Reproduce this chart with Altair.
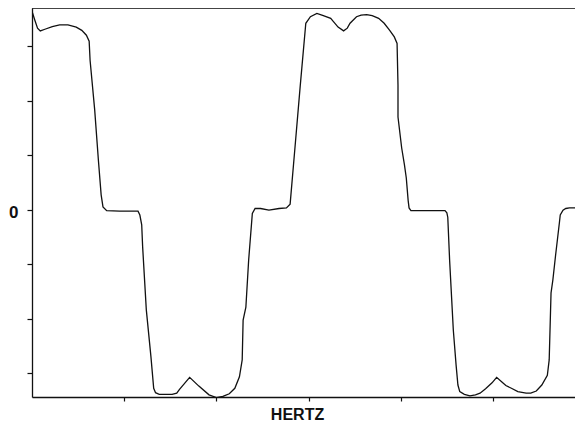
import altair as alt
import pandas as pd

# Waveform trace (x in tick units of the HERTZ axis, y in tick units of amplitude)
hertz = [
    0.00, 0.03, 0.06, 0.09, 0.14, 0.22, 0.30, 0.39, 0.48, 0.54, 0.59, 0.62, 0.63, 0.68, 0.72, 0.75,
    0.77, 0.81, 0.95, 1.15, 1.17, 1.19, 1.20, 1.24, 1.29, 1.32, 1.34, 1.38, 1.52, 1.57, 1.60, 1.71,
    1.81, 1.92, 2.00, 2.07, 2.14, 2.20, 2.25, 2.28, 2.29, 2.32, 2.35, 2.39, 2.42, 2.48, 2.57, 2.68,
    2.76, 2.80, 2.85, 2.91, 2.97, 3.02, 3.09, 3.16, 3.24, 3.27, 3.32, 3.38, 3.42, 3.45, 3.52, 3.57,
    3.63, 3.69, 3.76, 3.82, 3.88, 3.93, 3.96, 3.97, 3.97, 4.01, 4.04, 4.06, 4.08, 4.09, 4.11, 4.30,
    4.48, 4.50, 4.51, 4.53, 4.57, 4.60, 4.62, 4.64, 4.69, 4.75, 4.81, 4.86, 4.92, 4.99, 5.04, 5.10,
    5.14, 5.20, 5.27, 5.36, 5.41, 5.47, 5.53, 5.59, 5.61, 5.63, 5.65, 5.68, 5.72, 5.73, 5.76, 5.79,
    5.83, 5.87, 5.93,
]
amplitude = [
    3.64, 3.48, 3.33, 3.28, 3.31, 3.36, 3.39, 3.39, 3.35, 3.29, 3.20, 3.09, 2.74, 1.83, 0.91, 0.27,
    0.05, -0.02, -0.03, -0.03, -0.10, -0.28, -0.68, -1.84, -2.70, -3.28, -3.36, -3.39, -3.39, -3.37, -3.30, -3.08,
    -3.24, -3.40, -3.45, -3.43, -3.38, -3.28, -3.07, -2.76, -2.03, -1.79, -0.93, -0.07, 0.02, 0.02, -0.01, 0.02,
    0.03, 0.10, 1.09, 2.28, 3.42, 3.54, 3.60, 3.56, 3.51, 3.45, 3.35, 3.28, 3.33, 3.42, 3.54, 3.57,
    3.58, 3.56, 3.51, 3.42, 3.29, 3.17, 3.05, 2.28, 1.70, 1.13, 0.82, 0.58, 0.17, 0.03, -0.02, -0.02,
    -0.02, -0.06, -0.14, -0.93, -2.21, -2.85, -3.22, -3.34, -3.39, -3.42, -3.40, -3.37, -3.29, -3.18, -3.08, -3.17,
    -3.23, -3.28, -3.34, -3.37, -3.37, -3.33, -3.22, -3.04, -2.76, -1.53, -1.29, -0.83, -0.25, -0.10, -0.01, 0.02,
    0.03, 0.03, 0.03,
]

x_ticks = [1, 2, 3, 4, 5]
y_ticks = [-3, -2, -1, 0, 1, 2, 3]
x_domain = [0, 5.89]
y_domain = [-3.44, 3.70]
x_title = "HERTZ"

df = pd.DataFrame({"hertz": hertz, "amp": amplitude, "order": list(range(len(hertz)))})

W, H = 543, 389

line = alt.Chart(df).mark_line(color="#111111", strokeWidth=1.3, interpolate="linear", clip=True).encode(
    x=alt.X("hertz:Q", scale=alt.Scale(domain=x_domain, nice=False, zero=False),
            axis=alt.Axis(values=x_ticks, labels=False, grid=False, tickSize=4, tickColor="#111",
                          domainColor="#111", domainWidth=1.3, tickWidth=1.2,
                          title=x_title, titleFont="Liberation Sans", titleFontSize=16,
                          titleFontWeight="bold", titleColor="#111", titleX=265, titleY=22,
                          titleAlign="center", titleBaseline="alphabetic")),
    y=alt.Y("amp:Q", scale=alt.Scale(domain=y_domain, nice=False, zero=False),
            axis=alt.Axis(values=y_ticks, grid=False, tickSize=5, tickColor="#111", tickWidth=1.2,
                          domainColor="#111", domainWidth=1.3,
                          labelExpr="datum.value == 0 ? '0' : ''",
                          labelFont="Liberation Sans", labelFontSize=17, labelFontWeight="bold",
                          labelColor="#111", labelPadding=9, labelOffset=3, title=None)),
    order="order:Q",
)

top = alt.Chart(pd.DataFrame({"a": [0]})).mark_rule(color="#111", strokeWidth=1.3).encode(
    x=alt.value(0), x2=alt.value(W), y=alt.value(0)
)

chart = alt.layer(line, top).properties(
    width=W, height=H,
    autosize=alt.AutoSizeParams(type="none"),
    padding={"left": 24, "top": 0, "right": 0, "bottom": 25},
).configure_view(stroke=None).configure(background="white")

chart.save("out.html", embed_options={"renderer": "svg", "actions": False})
